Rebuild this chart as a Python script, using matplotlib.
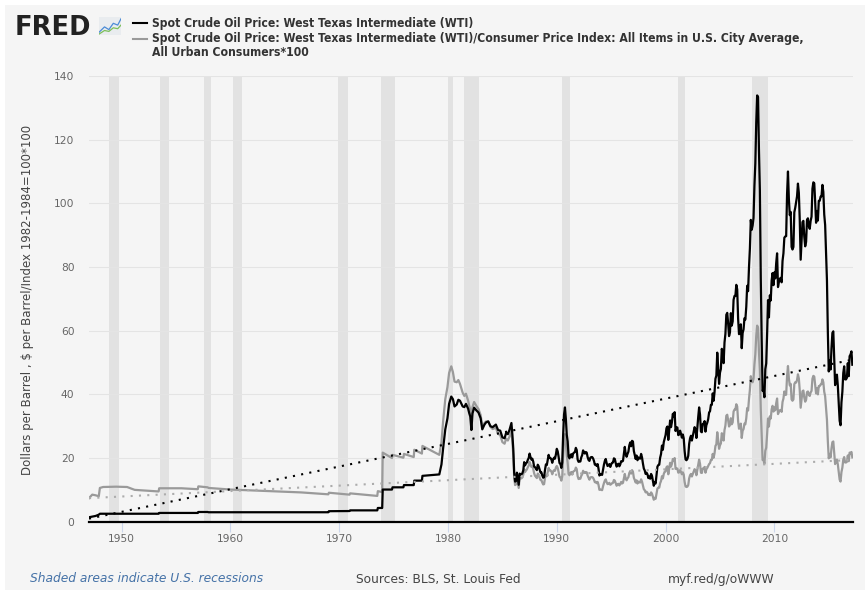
import numpy as np
import matplotlib
matplotlib.use("Agg")
import matplotlib.pyplot as plt
from matplotlib.lines import Line2D
from matplotlib.patches import Rectangle

# ---------------- data ----------------
early_years = [1947.0, 1947.3, 1947.6, 1947.9, 1948.0, 1948.3, 1949.5, 1950.5, 1951.2, 1952.5,
               1953.4, 1953.45, 1955.5, 1957.0, 1957.05, 1957.9, 1958.0, 1960.0, 1963.0, 1966.5,
               1969.0, 1969.05, 1970.95, 1971.0, 1973.5, 1973.55, 1973.95, 1974.0, 1974.85, 1974.9,
               1975.9, 1975.95, 1976.85, 1976.9, 1977.6, 1977.65, 1979.2, 1979.4, 1979.55, 1979.75,
               1979.95, 1980.1, 1980.3, 1980.45, 1980.6, 1980.8, 1980.95, 1981.1, 1981.35, 1981.5,
               1981.65, 1981.85, 1981.95, 1982.05, 1982.15, 1982.25, 1982.4, 1982.6, 1982.8, 1983.0,
               1983.15, 1983.35, 1983.5, 1983.7, 1983.9, 1984.1, 1984.4, 1984.6, 1984.8, 1985.0,
               1985.2, 1985.35, 1985.5, 1985.65, 1985.83, 1985.92]

wti_early = [1.4, 1.6, 1.8, 2.2, 2.5, 2.5, 2.5, 2.5, 2.5, 2.5,
             2.5, 2.75, 2.75, 2.75, 3.05, 3.05, 2.97, 2.97, 2.97, 2.97,
             2.97, 3.3, 3.35, 3.56, 3.56, 4.31, 4.31, 10.1, 10.1, 10.8,
             10.8, 11.5, 11.5, 12.9, 12.9, 14.4, 14.85, 18.0, 23.0, 29.0,
             32.5, 37.0, 39.3, 38.5, 36.2, 36.8, 38.3, 38.0, 36.2, 36.0,
             37.0, 35.5, 34.1, 33.0, 28.8, 34.0, 35.8, 35.0, 34.3, 32.5,
             29.0, 30.5, 31.2, 31.5, 30.0, 29.7, 30.5, 28.8, 28.6, 26.5,
             26.2, 28.0, 27.5, 28.8, 31.0, 27.2]

real_early = [7.4, 8.5, 8.3, 8.0, 10.6, 10.9, 11.0, 10.9, 10.0, 9.7,
              9.5, 10.5, 10.5, 10.2, 11.1, 10.8, 10.6, 10.1, 9.7, 9.2,
              8.6, 9.1, 8.5, 8.9, 8.1, 9.6, 9.3, 21.7, 20.0, 21.0,
              20.1, 21.3, 20.3, 22.6, 21.4, 23.8, 21.0, 25.0, 31.5, 38.5,
              42.3, 46.7, 48.8, 47.0, 44.0, 43.8, 44.5, 43.3, 40.5, 39.5,
              40.2, 38.0, 36.4, 35.2, 30.6, 36.0, 37.6, 36.4, 35.4, 33.5,
              29.8, 31.0, 31.5, 31.5, 29.8, 29.1, 29.5, 27.6, 27.2, 25.0,
              24.5, 26.1, 25.5, 26.7, 28.5, 25.0]

monthly_start = 1986.0  # monthly values from Jan 1986 to Mar 2017
wti_monthly = [
    22.9, 15.4, 12.6, 12.8, 15.4, 13.5, 11.6, 15.1, 14.9, 14.9, 15.2, 16.1,   # 1986
    18.7, 17.7, 18.3, 18.6, 19.4, 20.0, 21.4, 20.3, 19.5, 19.8, 18.9, 17.3,   # 1987
    17.1, 16.7, 16.2, 17.9, 17.4, 16.5, 15.5, 15.5, 14.5, 13.8, 14.0, 16.3,   # 1988
    18.0, 17.8, 19.4, 21.0, 20.0, 20.0, 19.6, 18.5, 19.6, 20.1, 19.8, 21.1,   # 1989
    22.9, 22.1, 20.4, 18.4, 18.2, 16.9, 18.6, 27.2, 33.7, 35.9, 32.3, 27.3,   # 1990
    25.2, 20.5, 19.9, 20.8, 21.2, 20.2, 21.4, 21.7, 21.9, 23.2, 22.5, 19.5,   # 1991
    18.8, 19.0, 18.9, 20.2, 20.9, 22.4, 21.8, 21.4, 21.9, 21.7, 20.3, 19.4,   # 1992
    19.1, 20.1, 20.3, 20.3, 19.9, 19.1, 17.9, 18.0, 17.5, 18.1, 16.7, 14.5,   # 1993
    15.0, 14.8, 14.7, 16.4, 17.9, 19.1, 19.7, 18.4, 17.5, 17.7, 18.1, 17.2,   # 1994
    18.0, 18.5, 18.6, 19.9, 19.7, 18.4, 17.3, 18.0, 18.2, 17.4, 18.0, 19.0,   # 1995
    18.9, 19.1, 21.3, 23.5, 21.2, 20.4, 21.3, 22.0, 24.0, 24.9, 23.7, 25.4,   # 1996
    25.2, 22.2, 21.0, 19.7, 20.8, 19.3, 20.2, 19.9, 19.8, 21.3, 20.2, 18.3,   # 1997
    16.7, 16.1, 15.0, 15.4, 14.9, 13.7, 14.2, 13.5, 15.0, 14.4, 12.9, 11.3,   # 1998
    12.5, 12.0, 14.7, 17.3, 17.8, 17.9, 20.1, 21.3, 23.9, 22.6, 25.0, 26.1,   # 1999
    27.2, 29.4, 29.9, 25.7, 28.8, 31.8, 29.7, 31.3, 33.9, 33.1, 34.4, 28.5,   # 2000
    29.6, 29.6, 27.2, 27.4, 28.6, 27.6, 26.4, 27.4, 26.2, 22.2, 19.6, 19.3,   # 2001
    19.7, 20.7, 24.4, 26.2, 27.0, 25.5, 26.9, 28.4, 29.7, 28.9, 26.3, 29.4,   # 2002
    32.9, 35.9, 33.6, 28.3, 28.1, 30.7, 30.8, 31.6, 28.3, 30.3, 31.1, 32.2,   # 2003
    34.3, 34.7, 36.7, 36.7, 40.3, 38.0, 40.7, 44.9, 45.9, 53.1, 48.5, 43.3,   # 2004
    46.8, 48.0, 54.3, 53.0, 49.8, 56.3, 59.0, 65.0, 65.6, 62.3, 58.3, 59.4,   # 2005
    65.5, 61.6, 62.9, 69.7, 70.9, 70.9, 74.4, 73.0, 63.8, 58.9, 59.4, 62.0,   # 2006
    54.5, 59.3, 60.4, 63.9, 63.5, 67.5, 74.1, 72.4, 79.9, 85.8, 94.8, 91.7,   # 2007
    93.0, 95.4, 105.5, 112.6, 125.4, 133.9, 133.4, 116.7, 104.1, 76.6, 57.3, 41.1,  # 2008
    41.7, 39.1, 47.9, 49.7, 59.0, 69.6, 64.2, 71.1, 69.5, 75.8, 78.1, 74.3,   # 2009
    78.3, 76.4, 81.2, 84.3, 73.7, 75.3, 76.3, 76.6, 75.2, 81.9, 84.3, 89.2,   # 2010
    89.6, 89.7, 102.9, 110.0, 101.3, 96.3, 97.3, 86.3, 85.5, 86.3, 97.2, 98.6,  # 2011
    100.3, 102.2, 106.2, 103.3, 94.7, 82.3, 87.9, 94.1, 94.5, 89.5, 86.5, 87.9,  # 2012
    94.8, 95.3, 92.9, 92.0, 94.5, 95.8, 104.6, 106.6, 106.3, 100.5, 93.9, 97.6,  # 2013
    94.6, 100.8, 100.8, 102.1, 102.2, 105.8, 103.6, 96.5, 93.2, 84.4, 75.8, 59.3,  # 2014
    47.2, 50.6, 47.8, 54.5, 59.3, 59.8, 50.9, 42.9, 45.5, 46.2, 42.7, 37.2,   # 2015
    31.7, 30.3, 37.5, 40.8, 46.7, 48.8, 44.7, 44.7, 45.2, 49.8, 45.7, 52.0,   # 2016
    52.5, 53.5, 49.3,                                                         # 2017
]

real_monthly = [
    20.9, 14.0, 11.5, 11.7, 14.0, 12.3, 10.6, 13.8, 13.6, 13.6, 13.9, 14.7,   # 1986
    16.5, 15.6, 16.1, 16.4, 17.1, 17.6, 18.8, 17.9, 17.2, 17.4, 16.6, 15.2,   # 1987
    14.4, 14.1, 13.7, 15.1, 14.7, 13.9, 13.1, 13.1, 12.3, 11.7, 11.8, 13.8,   # 1988
    14.5, 14.3, 15.6, 16.9, 16.1, 16.1, 15.8, 14.9, 15.8, 16.2, 16.0, 17.0,   # 1989
    17.5, 16.9, 15.6, 14.1, 13.9, 12.9, 14.2, 20.8, 25.8, 27.5, 24.7, 20.9,   # 1990
    18.5, 15.0, 14.6, 15.3, 15.6, 14.8, 15.7, 15.9, 16.1, 17.0, 16.5, 14.3,   # 1991
    13.4, 13.5, 13.5, 14.4, 14.9, 16.0, 15.5, 15.3, 15.6, 15.5, 14.5, 13.8,   # 1992
    13.2, 13.9, 14.0, 14.0, 13.8, 13.2, 12.4, 12.5, 12.1, 12.5, 11.6, 10.0,   # 1993
    10.1, 10.0, 9.9, 11.1, 12.1, 12.9, 13.3, 12.4, 11.8, 11.9, 12.2, 11.6,    # 1994
    11.8, 12.1, 12.2, 13.1, 12.9, 12.1, 11.3, 11.8, 11.9, 11.4, 11.8, 12.5,   # 1995
    12.0, 12.2, 13.6, 15.0, 13.5, 13.0, 13.6, 14.0, 15.3, 15.9, 15.1, 16.2,   # 1996
    15.7, 13.8, 13.1, 12.3, 13.0, 12.0, 12.6, 12.4, 12.3, 13.3, 12.6, 11.4,   # 1997
    10.2, 9.9, 9.2, 9.4, 9.1, 8.4, 8.7, 8.3, 9.2, 8.8, 7.9, 6.9,              # 1998
    7.5, 7.2, 8.8, 10.4, 10.7, 10.7, 12.1, 12.8, 14.3, 13.6, 15.0, 15.7,      # 1999
    15.8, 17.1, 17.4, 14.9, 16.7, 18.5, 17.3, 18.2, 19.7, 19.2, 20.0, 16.6,   # 2000
    16.7, 16.7, 15.4, 15.5, 16.2, 15.6, 14.9, 15.5, 14.8, 12.5, 11.1, 10.9,   # 2001
    11.0, 11.5, 13.6, 14.6, 15.0, 14.2, 15.0, 15.8, 16.5, 16.1, 14.6, 16.3,   # 2002
    17.9, 19.5, 18.2, 15.4, 15.3, 16.7, 16.7, 17.2, 15.4, 16.5, 16.9, 17.5,   # 2003
    18.1, 18.4, 19.4, 19.4, 21.3, 20.1, 21.5, 23.8, 24.3, 28.1, 25.7, 22.9,   # 2004
    24.0, 24.6, 27.8, 27.1, 25.5, 28.8, 30.2, 33.3, 33.6, 31.9, 29.9, 30.4,   # 2005
    32.5, 30.6, 31.2, 34.6, 35.2, 35.2, 36.9, 36.2, 31.6, 29.2, 29.5, 30.8,   # 2006
    26.3, 28.6, 29.1, 30.8, 30.6, 32.5, 35.7, 34.9, 38.5, 41.4, 45.7, 44.2,   # 2007
    43.8, 44.9, 49.4, 52.6, 58.3, 61.6, 60.9, 53.4, 47.6, 35.3, 26.9, 19.4,   # 2008
    19.4, 18.2, 22.3, 23.2, 27.5, 32.4, 29.9, 33.1, 32.4, 35.3, 36.4, 34.6,   # 2009
    35.9, 35.0, 37.2, 38.7, 33.8, 34.5, 35.0, 35.1, 34.5, 37.6, 38.7, 40.9,   # 2010
    39.8, 39.9, 45.7, 48.9, 45.0, 42.8, 43.3, 38.4, 38.0, 38.4, 43.2, 43.8,   # 2011
    43.7, 44.5, 46.3, 45.0, 41.2, 35.8, 38.3, 41.0, 41.2, 39.0, 37.7, 38.3,   # 2012
    40.7, 40.9, 39.9, 39.5, 40.6, 41.1, 44.9, 45.8, 45.6, 43.1, 40.3, 41.9,   # 2013
    40.0, 42.6, 42.6, 43.1, 43.2, 44.7, 43.8, 40.8, 39.4, 35.7, 32.0, 25.1,   # 2014
    19.9, 21.3, 20.2, 23.0, 25.0, 25.2, 21.5, 18.1, 19.2, 19.5, 18.0, 15.7,   # 2015
    13.2, 12.6, 15.6, 17.0, 19.5, 20.3, 18.6, 18.6, 18.8, 20.8, 19.0, 21.7,   # 2016
    21.5, 21.9, 20.2,                                                         # 2017
]

trend_years = [1947.0, 2017.2]
wti_trend = [0.96, 50.9]
real_trend = [7.4, 19.4]

recessions = [(1948.83, 1949.75), (1953.5, 1954.33), (1957.58, 1958.25), (1960.25, 1961.08),
              (1969.92, 1970.83), (1973.83, 1975.17), (1980.0, 1980.5), (1981.5, 1982.83),
              (1990.5, 1991.17), (2001.17, 2001.83), (2007.92, 2009.42)]

x_ticks = [1950, 1960, 1970, 1980, 1990, 2000, 2010]
x_labels = ["1950", "1960", "1970", "1980", "1990", "2000", "2010"]
y_ticks = [0, 20, 40, 60, 80, 100, 120, 140]

series1_name = "Spot Crude Oil Price: West Texas Intermediate (WTI)"
series2_name_1 = ("Spot Crude Oil Price: West Texas Intermediate (WTI)/Consumer Price Index: "
                  "All Items in U.S. City Average,")
series2_name_2 = "All Urban Consumers*100"
y_label = "Dollars per Barrel , $ per Barrel/Index 1982-1984=100*100"

# ---------------- assemble ----------------
month_x = monthly_start + np.arange(len(wti_monthly)) / 12.0
x_all = np.concatenate([early_years, month_x])
wti_all = np.concatenate([wti_early, wti_monthly])
real_all = np.concatenate([real_early, real_monthly])

W, H = 865, 590
BG = "#f5f5f5"
fig = plt.figure(figsize=(W / 100, H / 100), dpi=100, facecolor="white")
fig.patches.append(Rectangle((5 / W, 0), 1 - 5 / W, 1 - 5 / H, transform=fig.transFigure,
                             facecolor=BG, edgecolor="none", zorder=-10))

ax_l, ax_r, ax_t, ax_b = 89, 852.7, 76, 521.7
ax = fig.add_axes([ax_l / W, 1 - ax_b / H, (ax_r - ax_l) / W, (ax_b - ax_t) / H])
ax.set_facecolor(BG)

for s, e in recessions:
    ax.axvspan(s, e, color="#e2e2e2", lw=0, zorder=0)

ax.set_yticks(y_ticks)
for yv in y_ticks[1:]:
    ax.axhline(yv, color="#e4e4e4", lw=0.8, zorder=0.5)

ax.plot(x_all, real_all, color="#9a9a9a", lw=1.6, zorder=2, solid_joinstyle="round")
ax.plot(x_all, wti_all, color="black", lw=1.6, zorder=3, solid_joinstyle="round")
ax.plot(trend_years, real_trend, color="#acacac", lw=1.5, ls=(0, (1, 3)), zorder=4)
ax.plot(trend_years, wti_trend, color="black", lw=1.5, ls=(0, (1, 3)), zorder=4)
ax.axhline(0, color="black", lw=1.6, zorder=5, clip_on=False)

ax.set_xlim(1947.0, 2017.2)
ax.set_ylim(0, 140)
for sp in ax.spines.values():
    sp.set_visible(False)
ax.set_xticks(x_ticks)
ax.set_xticklabels(x_labels)
ax.tick_params(axis="x", length=7.2, width=0.8, color="#ccd6eb", pad=1.5,
               labelsize=7.7, labelcolor="#666666")
ax.tick_params(axis="y", length=0, pad=10.5, labelsize=7.7, labelcolor="#666666")

fig.text(28 / W, 1 - 300 / H, y_label, rotation=90, ha="center", va="center",
         fontsize=8.45, color="#444444")

# header
fig.text(15 / W, 1 - 35 / H, "FRED", fontsize=18.5, fontweight="heavy", color="#222222",
         ha="left", va="baseline")
icon = fig.add_axes([99 / W, 1 - 35 / H, 22 / W, 18 / H])
icon.set_facecolor("#e9ecef")
icon.plot([0, 0.25, 0.45, 0.65, 0.85, 1.0], [0.15, 0.45, 0.3, 0.65, 0.55, 0.9], color="#4b8bd6", lw=0.9)
icon.plot([0, 0.25, 0.45, 0.65, 0.85, 1.0], [0.05, 0.25, 0.2, 0.4, 0.35, 0.55], color="#7cbf5a", lw=0.9)
icon.set_xlim(0, 1); icon.set_ylim(0, 1)
icon.set_xticks([]); icon.set_yticks([])
for sp in icon.spines.values():
    sp.set_visible(False)

fig.add_artist(Line2D([133 / W, 147 / W], [1 - 23 / H, 1 - 23 / H], color="black", lw=1.5,
                      transform=fig.transFigure))
fig.add_artist(Line2D([133 / W, 147 / W], [1 - 38.5 / H, 1 - 38.5 / H], color="#9a9a9a", lw=1.5,
                      transform=fig.transFigure))
hdr = dict(fontsize=8.7, fontweight="bold", fontstretch="condensed", color="#333333",
           ha="left", va="center")
fig.text(152 / W, 1 - 23 / H, series1_name, **hdr)
fig.text(152 / W, 1 - 38.5 / H, series2_name_1, **hdr)
fig.text(152 / W, 1 - 53 / H, series2_name_2, **hdr)

# footer
fig.text(30 / W, 1 - 579 / H, "Shaded areas indicate U.S. recessions", fontsize=8.8,
         style="italic", color="#4572a7", ha="left", va="center")
fig.text(356 / W, 1 - 579 / H, "Sources: BLS, St. Louis Fed", fontsize=8.8, color="#444444",
         ha="left", va="center")
fig.text(668 / W, 1 - 579 / H, "myf.red/g/oWWW", fontsize=8.8, color="#444444",
         ha="left", va="center")

fig.savefig("out.png", dpi=100, facecolor="white")
